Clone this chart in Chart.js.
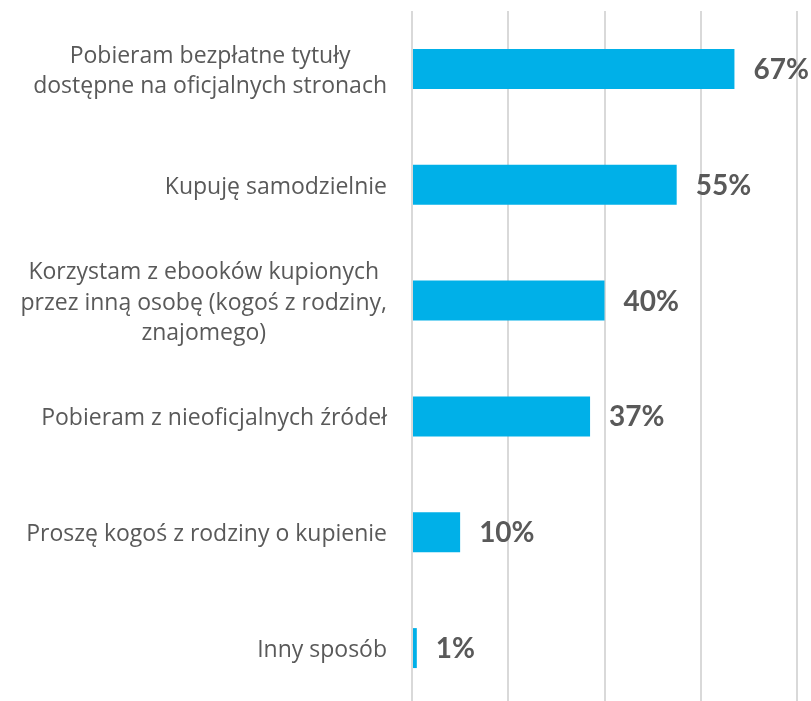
<!DOCTYPE html>
<html>
<head>
<meta charset="utf-8">
<script src="https://cdn.jsdelivr.net/npm/chart.js@4/dist/chart.umd.min.js"></script>
<style>
html,body{margin:0;padding:0;background:#fff;overflow:hidden;}
#wrap{width:811px;height:701px;overflow:hidden;position:relative;}
#box{width:811px;height:720px;position:absolute;left:0;top:0;}
</style>
</head>
<body>
<div id="wrap"><div id="box"><canvas id="c"></canvas></div></div>
<script>
const categories = [
  ["Pobieram bezpłatne tytuły", "dostępne na oficjalnych stronach"],
  ["Kupuję samodzielnie"],
  ["Korzystam z ebooków kupionych", "przez inną osobę (kogoś z rodziny,", "znajomego)"],
  ["Pobieram z nieoficjalnych źródeł"],
  ["Proszę kogoś z rodziny o kupienie"],
  ["Inny sposób"]
];
const values = [67, 55, 40, 37, 10, 1];
const axisMin = 0, axisMax = 80, axisStep = 20;

const LABEL_FONT = "'Open Sans', sans-serif";
const VALUE_FONT = "Lato, 'Open Sans', sans-serif";
const TEXT = '#595959';

const labelPlugin = {
  id: 'labels',
  afterDraw(chart) {
    const ctx = chart.ctx;
    const y = chart.scales.y;
    ctx.save();
    ctx.fillStyle = TEXT;
    ctx.font = "23px " + LABEL_FONT;
    ctx.textBaseline = 'middle';
    ctx.textAlign = 'center';
    const right = y.right - 25;
    const lh = 30.6;
    categories.forEach((lines, i) => {
      const cy = y.getPixelForTick(i) + 2.5;
      let maxW = 0;
      lines.forEach(l => { maxW = Math.max(maxW, ctx.measureText(l).width); });
      const cx = right - maxW / 2;
      lines.forEach((l, j) => {
        ctx.fillText(l, cx, cy + (j - (lines.length - 1) / 2) * lh);
      });
    });
    const meta = chart.getDatasetMeta(0);
    ctx.font = "bold 28px " + VALUE_FONT;
    ctx.textAlign = 'left';
    meta.data.forEach((bar, i) => {
      ctx.fillText(values[i] + '%', bar.x + 19, bar.y + 1);
    });
    ctx.restore();
  }
};

new Chart(document.getElementById('c'), {
  type: 'bar',
  data: {
    labels: categories,
    datasets: [{
      data: values,
      backgroundColor: '#00B0E8',
      borderWidth: 0,
      categoryPercentage: 1,
      barPercentage: 0.345
    }]
  },
  options: {
    indexAxis: 'y',
    responsive: true,
    maintainAspectRatio: false,
    animation: false,
    layout: { padding: { top: 11, bottom: 14, left: 0, right: 14 } },
    plugins: { legend: { display: false }, tooltip: { enabled: false } },
    scales: {
      x: {
        min: axisMin, max: axisMax,
        ticks: { stepSize: axisStep, display: false },
        grid: { color: '#D9D9D9', lineWidth: 2, drawTicks: false },
        border: { display: false }
      },
      y: {
        ticks: { display: false },
        grid: { display: false, drawTicks: false },
        border: { display: false },
        afterFit(scale) { scale.width = 412; }
      }
    }
  },
  plugins: [labelPlugin]
});
</script>
</body>
</html>
